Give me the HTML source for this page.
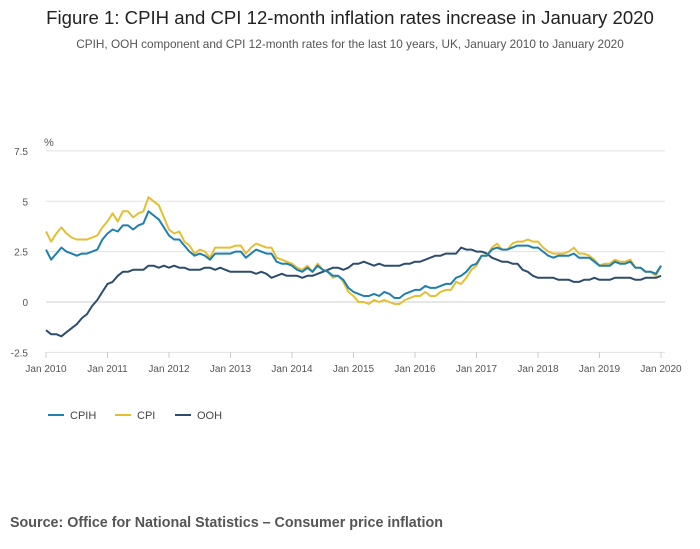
<!DOCTYPE html>
<html><head><meta charset="utf-8"><style>
body{margin:0;background:#fff;font-family:"Liberation Sans",sans-serif;}
#wrap{position:relative;width:700px;height:549px;overflow:hidden}
</style></head><body>
<div id="wrap">
<svg id="svg" width="700" height="549">
<text x="350" y="24" text-anchor="middle" font-size="18.6" fill="#222">Figure 1: CPIH and CPI 12-month inflation rates increase in January 2020</text>
<text x="350" y="48" text-anchor="middle" font-size="11.8" fill="#555">CPIH, OOH component and CPI 12-month rates for the last 10 years, UK, January 2010 to January 2020</text>
<text x="44" y="146" font-size="11" fill="#555">%</text>
<g id="grid"></g><g id="xt"></g><g id="lines"></g>
<g font-size="11" fill="#444">
<line x1="48" y1="415" x2="64" y2="415" stroke="#1f7fae" stroke-width="2"/><text x="70" y="419">CPIH</text>
<line x1="115" y1="415" x2="131" y2="415" stroke="#e6be32" stroke-width="2"/><text x="137" y="419">CPI</text>
<line x1="175" y1="415" x2="191" y2="415" stroke="#2d4d6e" stroke-width="2"/><text x="197" y="419">OOH</text>
</g>
<text x="10" y="527" font-size="14.3" font-weight="bold" fill="#555">Source: Office for National Statistics – Consumer price inflation</text>
</svg></div>
<script>
const yTicks=[-2.5,0,2.5,5,7.5];
const yTickLabels=["-2.5","0","2.5","5","7.5"];
const xTickLabels=["Jan 2010","Jan 2011","Jan 2012","Jan 2013","Jan 2014","Jan 2015","Jan 2016","Jan 2017","Jan 2018","Jan 2019","Jan 2020"];
const cpi=[3.5,3.0,3.4,3.7,3.4,3.2,3.1,3.1,3.1,3.2,3.3,3.7,
4.0,4.4,4.0,4.5,4.5,4.2,4.4,4.5,5.2,5.0,4.8,4.2,
3.6,3.4,3.5,3.0,2.8,2.4,2.6,2.5,2.2,2.7,2.7,2.7,
2.7,2.8,2.8,2.4,2.7,2.9,2.8,2.7,2.7,2.2,2.1,2.0,
1.9,1.7,1.6,1.8,1.5,1.9,1.6,1.5,1.2,1.3,1.0,0.5,
0.3,0.0,0.0,-0.1,0.1,0.0,0.1,0.0,-0.1,-0.1,0.1,0.2,
0.3,0.3,0.5,0.3,0.3,0.5,0.6,0.6,1.0,0.9,1.2,1.6,
1.8,2.3,2.3,2.7,2.9,2.6,2.6,2.9,3.0,3.0,3.1,3.0,
3.0,2.7,2.5,2.4,2.4,2.4,2.5,2.7,2.4,2.4,2.3,2.1,
1.8,1.9,1.9,2.1,2.0,2.0,2.1,1.7,1.7,1.5,1.5,1.3,1.8];
const cpih=[2.6,2.1,2.4,2.7,2.5,2.4,2.3,2.4,2.4,2.5,2.6,3.1,
3.4,3.6,3.5,3.8,3.8,3.6,3.8,3.9,4.5,4.3,4.1,3.7,
3.3,3.1,3.1,2.8,2.5,2.3,2.4,2.3,2.1,2.4,2.4,2.4,
2.4,2.5,2.5,2.2,2.4,2.6,2.5,2.4,2.4,2.0,1.9,1.9,
1.8,1.6,1.5,1.7,1.5,1.8,1.6,1.5,1.3,1.3,1.1,0.7,
0.5,0.4,0.3,0.3,0.4,0.3,0.5,0.4,0.2,0.2,0.4,0.5,
0.6,0.6,0.8,0.7,0.7,0.8,0.9,0.9,1.2,1.3,1.5,1.8,
1.9,2.3,2.3,2.6,2.7,2.6,2.6,2.7,2.8,2.8,2.8,2.7,
2.7,2.5,2.3,2.2,2.3,2.3,2.3,2.4,2.2,2.2,2.2,2.0,
1.8,1.8,1.8,2.0,1.9,1.9,2.0,1.7,1.7,1.5,1.5,1.4,1.8];
const ooh=[-1.4,-1.6,-1.6,-1.7,-1.5,-1.3,-1.1,-0.8,-0.6,-0.2,0.1,0.5,
0.9,1.0,1.3,1.5,1.5,1.6,1.6,1.6,1.8,1.8,1.7,1.8,
1.7,1.8,1.7,1.7,1.6,1.6,1.6,1.7,1.7,1.6,1.7,1.6,
1.5,1.5,1.5,1.5,1.5,1.4,1.5,1.4,1.2,1.3,1.4,1.3,
1.3,1.3,1.2,1.3,1.3,1.4,1.5,1.6,1.7,1.7,1.6,1.7,
1.9,1.9,2.0,1.9,1.8,1.9,1.8,1.8,1.8,1.8,1.9,1.9,
2.0,2.0,2.1,2.2,2.3,2.3,2.4,2.4,2.4,2.7,2.6,2.6,
2.5,2.5,2.4,2.2,2.1,2.0,2.0,1.9,1.9,1.6,1.5,1.3,
1.2,1.2,1.2,1.2,1.1,1.1,1.1,1.0,1.0,1.1,1.1,1.2,
1.1,1.1,1.1,1.2,1.2,1.2,1.2,1.1,1.1,1.2,1.2,1.2,1.3];
const NS="http://www.w3.org/2000/svg";
const X0=46,X1=661,Y0=302,PU=20.15;
const x=i=>X0+(X1-X0)*i/120;
const y=v=>Y0-v*PU;
const grid=document.getElementById('grid');
yTicks.forEach((t,k)=>{
 const l=document.createElementNS(NS,'line');
 l.setAttribute('x1',X0);l.setAttribute('x2',X1+4);l.setAttribute('y1',y(t));l.setAttribute('y2',y(t));
 l.setAttribute('stroke',t===0?'#ccc':'#e2e2e2');
 
 
 grid.appendChild(l);
 const tx=document.createElementNS(NS,'text');
 tx.setAttribute('x',28);tx.setAttribute('y',y(t)+4);tx.setAttribute('text-anchor','end');
 tx.setAttribute('font-size','10');tx.setAttribute('fill','#555');tx.textContent=yTickLabels[k];
 
 
 grid.appendChild(tx);
});
const xt=document.getElementById('xt');
xTickLabels.forEach((s,k)=>{
 const xx=x(k*12);
 const l=document.createElementNS(NS,'line');
 l.setAttribute('x1',xx);l.setAttribute('x2',xx);l.setAttribute('y1',352);l.setAttribute('y2',358);l.setAttribute('stroke','#ccc');
 
 
 xt.appendChild(l);
 const tx=document.createElementNS(NS,'text');
 tx.setAttribute('x',xx);tx.setAttribute('y',372);tx.setAttribute('text-anchor','middle');
 tx.setAttribute('font-size','10');tx.setAttribute('fill','#555');tx.textContent=s;
 
 
 xt.appendChild(tx);
});
const lines=document.getElementById('lines');
[[ooh,'#2d4d6e','ooh-line'],[cpi,'#e6be32','cpi-line'],[cpih,'#1f7fae','cpih-line']].forEach(([d,c,n])=>{
 const p=document.createElementNS(NS,'path');
 p.setAttribute('d',d.map((v,i)=>(i?'L':'M')+x(i).toFixed(1)+','+y(v).toFixed(1)).join(''));
 p.setAttribute('fill','none');p.setAttribute('stroke',c);p.setAttribute('stroke-width','2');p.setAttribute('stroke-linejoin','round');
 
 
 lines.appendChild(p);
});
</script>
</body></html>
